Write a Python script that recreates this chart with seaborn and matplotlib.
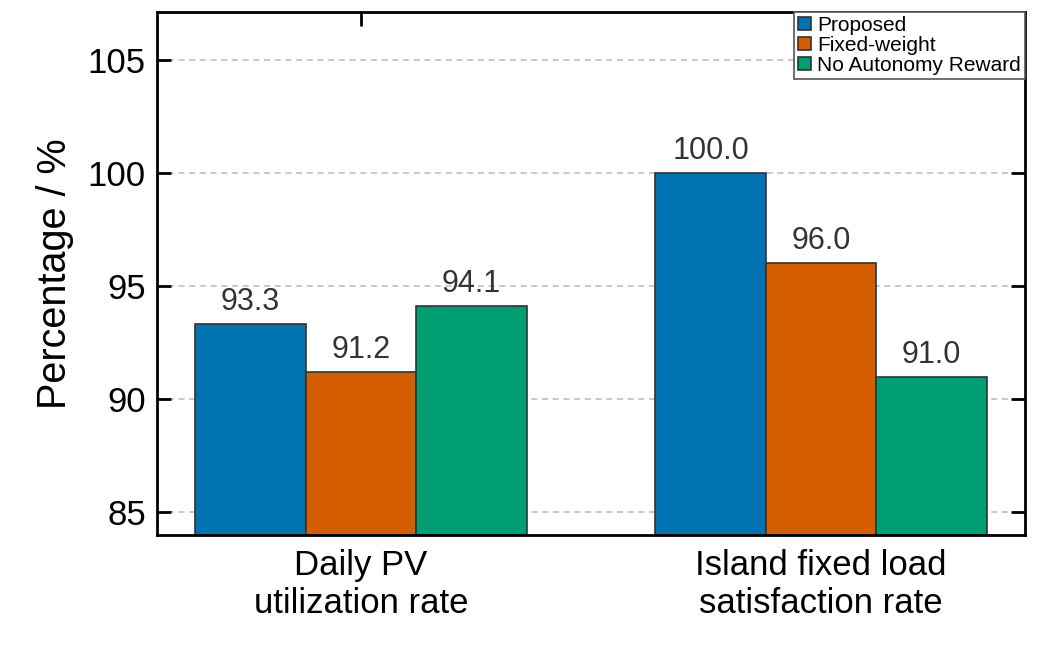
import matplotlib
matplotlib.use("Agg")
import matplotlib.pyplot as plt
import seaborn as sns
import pandas as pd

categories = ["Daily PV\nutilization rate", "Island fixed load\nsatisfaction rate"]
methods = ["Proposed", "Fixed-weight", "No Autonomy Reward"]
proposed = [93.3, 100.0]
fixed_weight = [91.2, 96.0]
no_autonomy = [94.1, 91.0]
yticks = [85, 90, 95, 100, 105]

sns.set_style("white")
plt.rcParams["font.family"] = ["Liberation Sans", "DejaVu Sans"]
plt.rcParams["text.color"] = "black"
plt.rcParams["axes.labelcolor"] = "black"
plt.rcParams["xtick.color"] = "black"
plt.rcParams["ytick.color"] = "black"

rows = []
for m, vals in zip(methods, [proposed, fixed_weight, no_autonomy]):
    for c, v in zip(categories, vals):
        rows.append({"Category": c, "Method": m, "Value": v})
df = pd.DataFrame(rows)

colors = ["#0173b2", "#d55e00", "#029e73"]

fig = plt.figure(figsize=(10.55, 6.51), dpi=100)
ax = fig.add_axes([0.1488, 0.1782, 0.8228, 0.8034])
sns.barplot(data=df, x="Category", y="Value", hue="Method", palette=colors,
            width=0.72, edgecolor="#333333", linewidth=1.2, ax=ax, saturation=1)

for cont in ax.containers:
    ax.bar_label(cont, fmt="%.1f", padding=5, fontsize=22, color="#333333")

ax.set_ylim(84, 107.1)
ax.set_xlim(-0.443, 1.443)
ax.set_yticks(yticks)
ax.set_axisbelow(True)
ax.yaxis.grid(True, linestyle=(0, (4, 3)), color="#bbbbbb", linewidth=1.1)
ax.xaxis.grid(False)

ax.set_xlabel("")
ax.set_ylabel("Percentage / %", fontsize=28.5, labelpad=10, color="black")
ax.tick_params(axis="y", which="major", direction="in", length=10, width=2,
               labelsize=25, left=True, right=True, pad=8, labelcolor="black")
ax.tick_params(axis="x", which="major", direction="in", length=10, width=2,
               labelsize=25, top=True, bottom=True, pad=10, labelcolor="black")
for s in ax.spines.values():
    s.set_linewidth(2)
    s.set_color("black")

handles, labels = ax.get_legend_handles_labels()
leg = ax.legend(handles, labels, loc="upper right", fontsize=15, frameon=True,
                fancybox=False, edgecolor="#555555", framealpha=1,
                borderaxespad=0.0, handlelength=0.6, handleheight=0.6,
                handletextpad=0.3, borderpad=0.2, labelspacing=0.05)
leg.get_frame().set_linewidth(1.2)
for t in leg.get_texts():
    t.set_color("black")
leg.set_zorder(5)

fig.savefig("out.png", dpi=100)
